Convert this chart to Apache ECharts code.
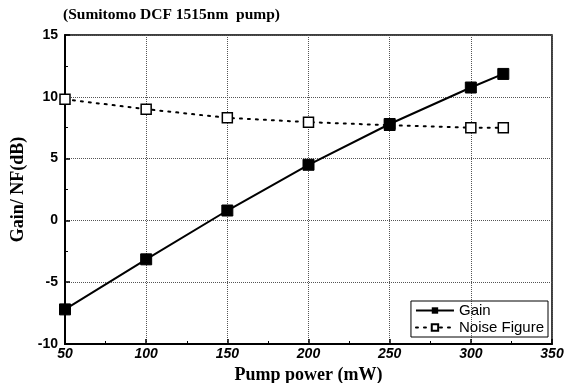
<!DOCTYPE html>
<html>
<head>
<meta charset="utf-8">
<script src="https://cdn.jsdelivr.net/npm/echarts@6/dist/echarts.min.js"></script>
<style>
  html, body { margin: 0; padding: 0; background: #fff; }
  #chart { width: 565px; height: 383px; }
</style>
</head>
<body>
<div id="chart"></div>
<script>
// Pump power (mW)
const pumpPower = [50, 100, 150, 200, 250, 300, 320];
// Gain and noise figure (dB)
const gain = [-7.2, -3.15, 0.8, 4.5, 7.8, 10.75, 11.85];
const noiseFigure = [9.8, 9.0, 8.3, 7.95, 7.7, 7.5, 7.5];

const chart = echarts.init(document.getElementById('chart'));

const serif = "'Liberation Serif', 'DejaVu Serif', serif";
const sans = "'Liberation Sans', Arial, sans-serif";

chart.setOption({
  animation: false,
  title: {
    text: '(Sumitomo DCF 1515nm  pump)',
    left: 58,
    top: 2,
    textStyle: { fontFamily: serif, fontWeight: 'bold', fontSize: 15.5, color: '#000' },
  },
  grid: {
    left: 65, right: 13, top: 35, bottom: 39,
    outerBoundsMode: 'none',
    containLabel: false,
    show: true, borderColor: '#000', borderWidth: 1.5,
  },
  legend: {
    right: 17,
    bottom: 46,
    orient: 'vertical',
    borderColor: '#000',
    borderWidth: 1,
    padding: [2, 4, 2, 4],
    itemGap: 2,
    itemWidth: 38,
    itemHeight: 8,
    textStyle: { fontFamily: sans, fontSize: 15, color: '#000' },
    data: ['Gain', 'Noise Figure'],
  },
  xAxis: {
    type: 'value',
    min: 50, max: 350, interval: 50,
    name: 'Pump power (mW)',
    nameLocation: 'middle',
    nameGap: 20,
    nameTextStyle: { fontFamily: serif, fontWeight: 'bold', fontSize: 18, color: '#000' },
    axisLine: { onZero: false, lineStyle: { color: '#000', width: 2 } },
    axisTick: { inside: true, length: 5, lineStyle: { color: '#000', width: 1.5 } },
    minorTick: { show: true, splitNumber: 2, length: 3, lineStyle: { color: '#000', width: 1 } },
    axisLabel: { fontFamily: sans, fontWeight: 'bold', fontStyle: 'italic', fontSize: 14, color: '#000', margin: 3 },
    splitLine: { show: true, lineStyle: { type: 'dotted', color: '#555', width: 1 } },
  },
  yAxis: {
    type: 'value',
    min: -10, max: 15, interval: 5,
    name: 'Gain/ NF(dB)',
    nameLocation: 'middle',
    nameGap: 22,
    nameTextStyle: { fontFamily: serif, fontWeight: 'bold', fontSize: 18, color: '#000' },
    axisLine: { onZero: false, lineStyle: { color: '#000', width: 2 } },
    axisTick: { inside: true, length: 5, lineStyle: { color: '#000', width: 1.5 } },
    minorTick: { show: true, splitNumber: 2, length: 3, lineStyle: { color: '#000', width: 1 } },
    axisLabel: { fontFamily: sans, fontWeight: 'bold', fontSize: 14, color: '#000', margin: 7 },
    splitLine: { show: true, lineStyle: { type: 'dotted', color: '#555', width: 1 } },
  },
  series: [
    {
      name: 'Gain',
      type: 'line',
      data: pumpPower.map((p, i) => [p, gain[i]]),
      symbol: 'rect',
      symbolSize: 11,
      lineStyle: { color: '#000', width: 2 },
      itemStyle: { color: '#000', borderColor: '#000' },
      z: 3,
    },
    {
      name: 'Noise Figure',
      type: 'line',
      data: pumpPower.map((p, i) => [p, noiseFigure[i]]),
      symbol: 'rect',
      symbolSize: 10,
      showAllSymbol: true,
      lineStyle: { color: '#000', width: 2, type: [2, 6], cap: 'round' },
      itemStyle: { color: '#fff', borderColor: '#000', borderWidth: 1.5 },
      z: 2,
    },
  ],
});
</script>
</body>
</html>
